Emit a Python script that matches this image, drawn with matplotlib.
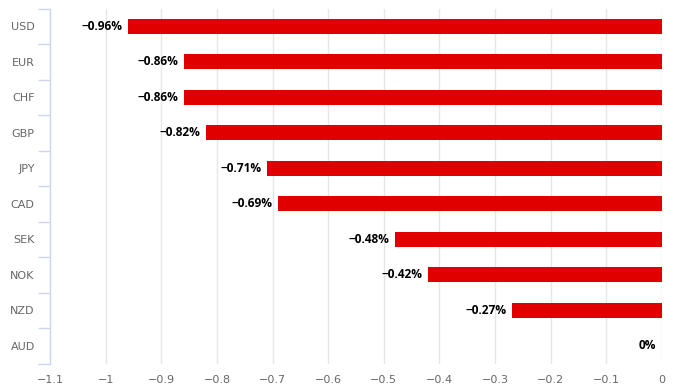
import matplotlib
matplotlib.use("Agg")
import matplotlib.pyplot as plt
from matplotlib.ticker import FuncFormatter

categories = ["USD", "EUR", "CHF", "GBP", "JPY", "CAD", "SEK", "NOK", "NZD", "AUD"]
values = [-0.96, -0.86, -0.86, -0.82, -0.71, -0.69, -0.48, -0.42, -0.27, 0.0]
xticks = [-1.1, -1.0, -0.9, -0.8, -0.7, -0.6, -0.5, -0.4, -0.3, -0.2, -0.1, 0.0]

W, H = 674, 391
fig = plt.figure(figsize=(W / 100, H / 100), dpi=100)
left, right, top, bottom = 50, 662, 8.5, 363.5
ax = fig.add_axes([left / W, 1 - bottom / H, (right - left) / W, (bottom - top) / H])

n = len(categories)
ypos = list(range(n))
ax.barh(ypos, values, height=0.43, color="#e00000", zorder=3)
ax.set_ylim(n - 0.5, -0.5)
ax.set_xlim(-1.1, 0)

def fmt_lbl(v):
    if v == 0:
        return "0%"
    s = f"{v:.2f}".rstrip("0").rstrip(".")
    return s.replace("-", "\u2212") + "%"

for y, v in zip(ypos, values):
    ax.annotate(fmt_lbl(v), xy=(v, y), xytext=(-4, 0), textcoords="offset points",
                ha="right", va="center", fontsize=8.6, fontweight="bold", color="#000000",
                family=["Open Sans", "DejaVu Sans"], zorder=4)

ax.set_xticks(xticks)
def xf(v, pos):
    if abs(v) < 1e-9:
        return "0"
    s = f"{v:.1f}"
    if s.endswith(".0"):
        s = s[:-2]
    return s.replace("-", "\u2212")
ax.xaxis.set_major_formatter(FuncFormatter(xf))
ax.tick_params(axis="x", length=0, labelsize=8, labelcolor="#666666", pad=8)
for x in xticks[1:]:
    ax.axvline(x, color="#e6e6e6", lw=1, zorder=1)

ax.set_yticks(ypos)
ax.set_yticklabels(categories)
ax.set_yticks([i - 0.5 for i in range(n + 1)], minor=True)
ax.tick_params(axis="y", which="major", length=0, labelsize=8, labelcolor="#666666", pad=11)
ax.tick_params(axis="y", which="minor", length=9, width=1, color="#ccd6eb")

for s in ["top", "right", "bottom"]:
    ax.spines[s].set_visible(False)
ax.spines["left"].set_color("#ccd6eb")
ax.spines["left"].set_linewidth(1)

fig.savefig("out.png", dpi=100)
